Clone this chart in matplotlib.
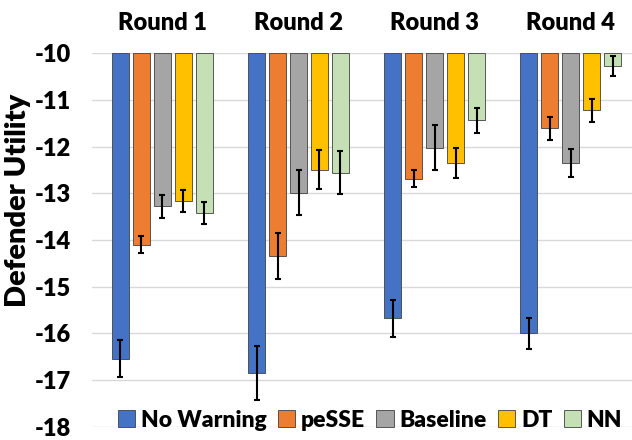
import matplotlib
matplotlib.use("Agg")
import matplotlib.pyplot as plt
import numpy as np

rounds = ["Round 1", "Round 2", "Round 3", "Round 4"]
series = ["No Warning", "peSSE", "Baseline", "DT", "NN"]
values = {
    "No Warning": [-16.54, -16.85, -15.68, -16.00],
    "peSSE":      [-14.10, -14.34, -12.69, -11.61],
    "Baseline":   [-13.28, -12.99, -12.02, -12.35],
    "DT":         [-13.16, -12.49, -12.35, -11.22],
    "NN":         [-13.42, -12.56, -11.44, -10.27],
}
errors = {
    "No Warning": [0.39, 0.57, 0.39, 0.34],
    "peSSE":      [0.18, 0.50, 0.18, 0.25],
    "Baseline":   [0.24, 0.48, 0.48, 0.30],
    "DT":         [0.24, 0.42, 0.32, 0.25],
    "NN":         [0.24, 0.46, 0.26, 0.21],
}
colors = ["#4472C4", "#ED7D31", "#A5A5A5", "#FFC000", "#C5E0B4"]
yticks = [-10, -11, -12, -13, -14, -15, -16, -17, -18]
base = -10

plt.rcParams['font.family'] = ['Lato', 'DejaVu Sans']
W = "heavy"
fig = plt.figure(figsize=(6.32, 4.40), dpi=100)
ax = fig.add_axes([0.145, 0.030, 0.855, 0.849])

x = np.arange(len(rounds))
pitch = 0.154
width = 0.125
for i, s in enumerate(series):
    pos = x + (i - 2) * pitch
    v = np.array(values[s])
    ax.bar(pos, v - base, bottom=base, width=width, color=colors[i],
           edgecolor="#404040", linewidth=0.6, label=s, zorder=2)
    ax.errorbar(pos, v, yerr=errors[s], fmt="none", ecolor="black",
                elinewidth=1.5, capsize=2, capthick=1.5, zorder=3)

ax.set_ylim(-18, -10)
ax.set_xlim(-0.52, 3.45)
ax.set_yticks(yticks)
ax.set_yticklabels([str(t) for t in yticks], fontsize=17, fontweight=W)
ax.set_xticks([])
ax.tick_params(axis="y", length=0, pad=15)
for sp in ax.spines.values():
    sp.set_visible(False)
ax.grid(axis="y", color="#D9D9D9", linewidth=1, zorder=0)
ax.set_ylabel("Defender Utility", fontsize=21, fontweight=W)
ax.yaxis.set_label_coords(-0.112, 0.605)

for xi, r in zip(x, rounds):
    ax.text(xi, 1.08, r, transform=ax.get_xaxis_transform(), ha="center",
            va="center", fontsize=17, fontweight=W)

leg = ax.legend(loc="lower center", bbox_to_anchor=(0.515, -0.035), ncol=5,
                frameon=False, prop={"size": 16.5, "weight": W},
                handlelength=0.75, handleheight=0.75, handletextpad=0.25,
                columnspacing=0.5, borderaxespad=0)

fig.savefig("out.png", dpi=100)
